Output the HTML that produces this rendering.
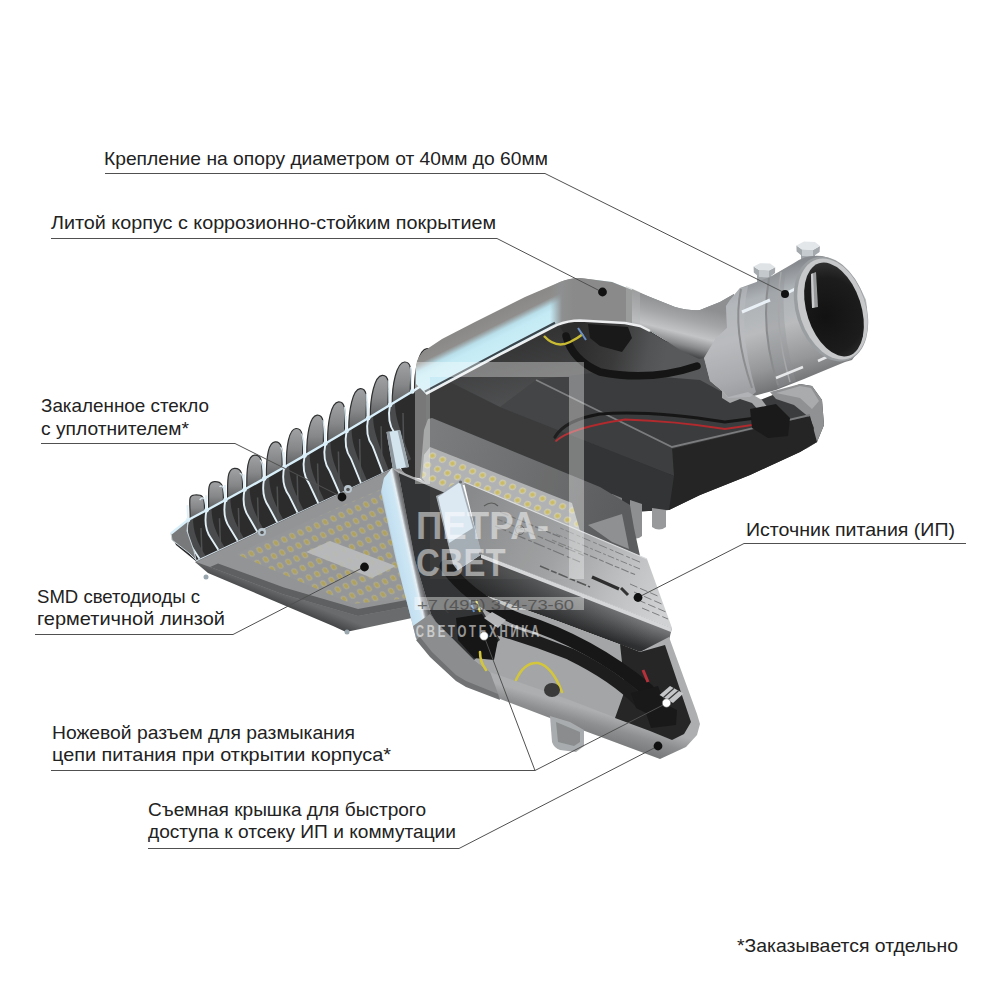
<!DOCTYPE html>
<html><head><meta charset="utf-8">
<style>
html,body{margin:0;padding:0;background:#fff;}
body{width:1000px;height:1000px;overflow:hidden;font-family:"Liberation Sans",sans-serif;}
svg{display:block;position:absolute;left:0;top:0;}
.t{font-family:"Liberation Sans",sans-serif;font-size:18.5px;fill:#222;}
.ln{fill:none;stroke:#505050;stroke-width:1;}
</style></head><body>
<svg width="1000" height="1000" viewBox="0 0 1000 1000">
<defs>
<linearGradient id="gCover" gradientUnits="userSpaceOnUse" x1="475" y1="322" x2="493" y2="358">
<stop offset="0" stop-color="#8a8886"/><stop offset="0.3" stop-color="#8f8e8c"/><stop offset="0.47" stop-color="#b9dfea"/><stop offset="0.6" stop-color="#c4ebf5"/><stop offset="0.9" stop-color="#c9edf7"/><stop offset="1" stop-color="#d5eef5"/>
</linearGradient>
<linearGradient id="gCoverR" gradientUnits="userSpaceOnUse" x1="550" y1="300" x2="574" y2="300">
<stop offset="0" stop-color="#8e9194" stop-opacity="0"/><stop offset="0.5" stop-color="#8e8f90" stop-opacity="1"/><stop offset="1" stop-color="#8a8a8a"/>
</linearGradient>
<linearGradient id="gArm" gradientUnits="userSpaceOnUse" x1="690" y1="300" x2="680" y2="355">
<stop offset="0" stop-color="#8a8b8c"/><stop offset="0.3" stop-color="#b5b8ba"/><stop offset="0.55" stop-color="#9fa2a4"/><stop offset="1" stop-color="#5e5f60"/>
</linearGradient>
<linearGradient id="gCyl" gradientUnits="userSpaceOnUse" x1="755" y1="275" x2="790" y2="395">
<stop offset="0" stop-color="#878a8e"/><stop offset="0.18" stop-color="#adb2b6"/><stop offset="0.45" stop-color="#b9bbbd"/><stop offset="0.75" stop-color="#949698"/><stop offset="1" stop-color="#646567"/>
</linearGradient>
<radialGradient id="gHole" gradientUnits="userSpaceOnUse" cx="838" cy="320" r="55">
<stop offset="0" stop-color="#121212"/><stop offset="0.7" stop-color="#1c1c1c"/><stop offset="1" stop-color="#333"/>
</radialGradient>
<linearGradient id="gBody" gradientUnits="userSpaceOnUse" x1="560" y1="330" x2="600" y2="500">
<stop offset="0" stop-color="#343435"/><stop offset="0.35" stop-color="#474849"/><stop offset="0.7" stop-color="#3e3e3f"/><stop offset="1" stop-color="#2f2f30"/>
</linearGradient>
<linearGradient id="gLidRim" gradientUnits="userSpaceOnUse" x1="520" y1="690" x2="510" y2="725">
<stop offset="0" stop-color="#acaeaf"/><stop offset="0.35" stop-color="#8d8f90"/><stop offset="1" stop-color="#696b6c"/>
</linearGradient>
<linearGradient id="gLidL" gradientUnits="userSpaceOnUse" x1="394.5" y1="562" x2="416.5" y2="557.2">
<stop offset="0" stop-color="#a3b6c3"/><stop offset="0.15" stop-color="#c2dff0"/><stop offset="0.6" stop-color="#cde6f4"/><stop offset="0.74" stop-color="#e6eff4"/><stop offset="0.84" stop-color="#8f9194"/><stop offset="1" stop-color="#5d5f61"/>
</linearGradient>
<linearGradient id="gPsuSide" gradientUnits="userSpaceOnUse" x1="580" y1="592" x2="570" y2="628">
<stop offset="0" stop-color="#989a9b"/><stop offset="0.45" stop-color="#6c6e6f"/><stop offset="1" stop-color="#2f3031"/>
</linearGradient>
<linearGradient id="gPsuTop" gradientUnits="userSpaceOnUse" x1="470" y1="500" x2="670" y2="600">
<stop offset="0" stop-color="#858687"/><stop offset="0.45" stop-color="#9d9fa0"/><stop offset="0.75" stop-color="#bcbebf"/><stop offset="1" stop-color="#d0d2d3"/>
</linearGradient>
<linearGradient id="gFin" x1="0" y1="0" x2="0" y2="1">
<stop offset="0" stop-color="#a1a2a3"/><stop offset="0.55" stop-color="#868788"/><stop offset="1" stop-color="#5e5f60"/>
</linearGradient>
<pattern id="pLed" width="10" height="10" patternUnits="userSpaceOnUse" patternTransform="matrix(0.82,-0.35,0.62,0.95,236,554)">
<rect width="10" height="10" fill="#959697"/>
<circle cx="5" cy="5" r="3.2" fill="#aeab94"/>
<circle cx="5" cy="5" r="2.2" fill="#b0a25c"/>
</pattern>
<pattern id="pLed2" width="10" height="10" patternUnits="userSpaceOnUse" patternTransform="matrix(1.0,0.39,-0.5,0.95,430,449)">
<rect width="10" height="10" fill="#aeafb0"/>
<circle cx="5" cy="5" r="3.1" fill="#cfccb0"/>
<circle cx="5" cy="5" r="2.1" fill="#c9ba5e"/>
</pattern>
<linearGradient id="gLedSide" gradientUnits="userSpaceOnUse" x1="300" y1="600" x2="294" y2="615">
<stop offset="0" stop-color="#6a6b6c"/><stop offset="1" stop-color="#38393a"/>
</linearGradient>
<linearGradient id="gFrame2" gradientUnits="userSpaceOnUse" x1="430" y1="440" x2="620" y2="510">
<stop offset="0" stop-color="#767778"/><stop offset="0.6" stop-color="#666768"/><stop offset="1" stop-color="#5c5d5e"/>
</linearGradient>
<linearGradient id="gUnder" gradientUnits="userSpaceOnUse" x1="575" y1="340" x2="665" y2="360">
<stop offset="0" stop-color="#2c2c2d"/><stop offset="0.45" stop-color="#3a3a3b"/><stop offset="0.8" stop-color="#525354"/><stop offset="1" stop-color="#58595a"/>
</linearGradient>
<linearGradient id="gArm2" gradientUnits="userSpaceOnUse" x1="672" y1="300" x2="660" y2="348">
<stop offset="0" stop-color="#8e8f90"/><stop offset="0.3" stop-color="#a3a5a6"/><stop offset="0.6" stop-color="#c2c4c5"/><stop offset="0.82" stop-color="#8a8b8c"/><stop offset="1" stop-color="#48494a"/>
</linearGradient>
<linearGradient id="gPsuSideX" gradientUnits="userSpaceOnUse" x1="470" y1="580" x2="650" y2="640">
<stop offset="0" stop-color="#1e1e1f" stop-opacity="0.75"/><stop offset="0.55" stop-color="#1e1e1f" stop-opacity="0.4"/><stop offset="1" stop-color="#1e1e1f" stop-opacity="0"/>
</linearGradient>

</defs>
<rect width="1000" height="1000" fill="#fff"/>
<!--PRODUCT-->
<g id="product">
<path d="M171,533 L188.0,520.0 L206.5,510.2 L225.4,500.0 L244.6,489.5 L264.2,478.6 L284.2,467.2 L304.6,455.6 L325.4,443.5 L346.6,431.0 L368.1,418.2 L390.0,405.0 L412.3,391.4 L435.0,377.4 L430,384 L432,480 L404,476 L400,465.6 L196,561.3 L176,545 Z" fill="#2c2c2d"/>
<path d="M190.2,518.5 C190.0,500.0 187.8,495.5 194.5,495.0 C201.9,494.5 204.5,495.2 204.5,508.2 L204.5,511.7 Z" fill="url(#gFin)" stroke="#2f3031" stroke-width="1.2"/>
<path d="M208.7,508.7 C208.5,490.2 207.4,482.2 214.2,481.7 C221.8,481.2 223.4,485.0 223.4,498.0 L223.4,501.5 Z" fill="url(#gFin)" stroke="#2f3031" stroke-width="1.2"/>
<path d="M227.6,498.5 C227.4,480.0 227.3,468.9 234.3,468.4 C242.0,467.9 242.6,474.5 242.6,487.5 L242.6,491.0 Z" fill="url(#gFin)" stroke="#2f3031" stroke-width="1.2"/>
<path d="M246.8,488.0 C246.6,469.5 247.5,455.6 254.6,455.1 C262.4,454.6 262.2,463.6 262.2,476.6 L262.2,480.1 Z" fill="url(#gFin)" stroke="#2f3031" stroke-width="1.2"/>
<path d="M266.4,477.1 C266.2,458.6 267.9,442.3 275.1,441.8 C283.1,441.3 282.2,452.2 282.2,465.2 L282.2,468.8 Z" fill="url(#gFin)" stroke="#2f3031" stroke-width="1.2"/>
<path d="M286.4,465.8 C286.2,447.2 288.7,429.0 296.0,428.5 C304.2,428.0 302.6,440.6 302.6,453.6 L302.6,457.1 Z" fill="url(#gFin)" stroke="#2f3031" stroke-width="1.2"/>
<path d="M306.8,454.1 C306.6,435.6 309.7,415.7 317.1,415.2 C325.4,414.7 323.4,428.5 323.4,441.5 L323.4,445.0 Z" fill="url(#gFin)" stroke="#2f3031" stroke-width="1.2"/>
<path d="M327.6,442.0 C327.4,423.5 330.9,402.4 338.6,401.9 C347.0,401.4 344.6,416.0 344.6,429.0 L344.6,432.5 Z" fill="url(#gFin)" stroke="#2f3031" stroke-width="1.2"/>
<path d="M348.8,429.5 C348.6,411.0 352.5,389.1 360.3,388.6 C368.9,388.1 366.1,403.2 366.1,416.2 L366.1,419.7 Z" fill="url(#gFin)" stroke="#2f3031" stroke-width="1.2"/>
<path d="M370.3,416.7 C370.1,398.2 374.4,375.8 382.2,375.3 C391.0,374.8 388.0,390.0 388.0,403.0 L388.0,406.5 Z" fill="url(#gFin)" stroke="#2f3031" stroke-width="1.2"/>
<path d="M392.2,403.5 C392.0,385.0 396.5,362.5 404.5,362.0 C413.4,361.5 410.3,376.4 410.3,389.4 L410.3,392.9 Z" fill="url(#gFin)" stroke="#2f3031" stroke-width="1.2"/>
<path d="M414.5,389.9 C414.3,371.4 418.9,349.2 427.0,348.7 C436.1,348.2 433.0,362.4 433.0,375.4 L433.0,378.9 Z" fill="url(#gFin)" stroke="#2f3031" stroke-width="1.2"/>
<path d="M199.7,500.0 Q205.3,493.2 205.9,509.2" fill="none" stroke="#dcebf3" stroke-width="1.4" opacity="0.9"/>
<path d="M219.5,486.7 Q224.2,483.0 224.8,499.0" fill="none" stroke="#dcebf3" stroke-width="1.4" opacity="0.9"/>
<path d="M239.7,473.4 Q243.4,472.5 244.0,488.5" fill="none" stroke="#dcebf3" stroke-width="1.4" opacity="0.9"/>
<path d="M260.1,460.1 Q263.0,461.6 263.6,477.6" fill="none" stroke="#dcebf3" stroke-width="1.4" opacity="0.9"/>
<path d="M280.7,446.8 Q283.1,450.2 283.6,466.2" fill="none" stroke="#dcebf3" stroke-width="1.4" opacity="0.9"/>
<path d="M301.7,433.5 Q303.4,438.6 304.0,454.6" fill="none" stroke="#dcebf3" stroke-width="1.4" opacity="0.9"/>
<path d="M323.0,420.2 Q324.2,426.5 324.8,442.5" fill="none" stroke="#dcebf3" stroke-width="1.4" opacity="0.9"/>
<path d="M344.5,406.9 Q345.4,414.0 346.0,430.0" fill="none" stroke="#dcebf3" stroke-width="1.4" opacity="0.9"/>
<path d="M366.3,393.6 Q366.9,401.2 367.5,417.2" fill="none" stroke="#dcebf3" stroke-width="1.4" opacity="0.9"/>
<path d="M388.4,380.3 Q388.8,388.0 389.4,404.0" fill="none" stroke="#dcebf3" stroke-width="1.4" opacity="0.9"/>
<path d="M410.7,367.0 Q411.1,374.4 411.7,390.4" fill="none" stroke="#dcebf3" stroke-width="1.4" opacity="0.9"/>
<path d="M433.4,353.7 Q433.8,360.4 434.4,376.4" fill="none" stroke="#dcebf3" stroke-width="1.4" opacity="0.9"/>
<path d="M188.0,520.0 C186.0,530.0 186.0,539.0 192.5,548.0 L199.5,558.7 L205.5,555.7 C197.0,542.0 193.0,532.0 193.0,517.0 Z" fill="#4a4b4c"/>
<path d="M201.0,528.0 L202.0,556.5" stroke="#4f5051" stroke-width="1.5"/>
<path d="M187.5,505.0 L188.0,520.0 C186.0,530.0 186.0,539.0 192.5,548.0 L199.5,558.7" fill="none" stroke="#e1eff6" stroke-width="1.9" stroke-linejoin="round"/>
<path d="M206.5,510.2 C204.5,520.2 204.5,529.2 211.0,538.2 L218.3,549.8 L224.3,546.8 C215.5,532.2 211.5,522.2 211.5,507.2 Z" fill="#4a4b4c"/>
<path d="M219.5,518.2 L220.5,547.8" stroke="#4f5051" stroke-width="1.5"/>
<path d="M206.0,495.2 L206.5,510.2 C204.5,520.2 204.5,529.2 211.0,538.2 L218.3,549.8" fill="none" stroke="#e1eff6" stroke-width="1.9" stroke-linejoin="round"/>
<path d="M225.4,500.0 C223.4,510.0 223.4,519.0 229.9,528.0 L237.6,540.8 L243.6,537.8 C234.4,522.0 230.4,512.0 230.4,497.0 Z" fill="#4a4b4c"/>
<path d="M238.4,508.0 L239.4,539.0" stroke="#4f5051" stroke-width="1.5"/>
<path d="M224.9,485.0 L225.4,500.0 C223.4,510.0 223.4,519.0 229.9,528.0 L237.6,540.8" fill="none" stroke="#e1eff6" stroke-width="1.9" stroke-linejoin="round"/>
<path d="M244.6,489.5 C242.6,499.5 242.6,508.5 249.1,517.5 L257.2,531.6 L263.2,528.6 C253.6,511.5 249.6,501.5 249.6,486.5 Z" fill="#4a4b4c"/>
<path d="M257.6,497.5 L258.6,529.9" stroke="#4f5051" stroke-width="1.5"/>
<path d="M244.1,474.5 L244.6,489.5 C242.6,499.5 242.6,508.5 249.1,517.5 L257.2,531.6" fill="none" stroke="#e1eff6" stroke-width="1.9" stroke-linejoin="round"/>
<path d="M264.2,478.6 C262.2,488.6 262.2,497.6 268.7,506.6 L277.1,522.3 L283.1,519.3 C273.2,500.6 269.2,490.6 269.2,475.6 Z" fill="#4a4b4c"/>
<path d="M277.2,486.6 L278.2,520.7" stroke="#4f5051" stroke-width="1.5"/>
<path d="M263.7,463.6 L264.2,478.6 C262.2,488.6 262.2,497.6 268.7,506.6 L277.1,522.3" fill="none" stroke="#e1eff6" stroke-width="1.9" stroke-linejoin="round"/>
<path d="M284.2,467.2 C282.2,477.2 282.2,486.2 288.8,495.2 L297.5,512.7 L303.5,509.7 C293.2,489.2 289.2,479.2 289.2,464.2 Z" fill="#4a4b4c"/>
<path d="M297.2,475.2 L298.2,511.4" stroke="#4f5051" stroke-width="1.5"/>
<path d="M283.8,452.2 L284.2,467.2 C282.2,477.2 282.2,486.2 288.8,495.2 L297.5,512.7" fill="none" stroke="#e1eff6" stroke-width="1.9" stroke-linejoin="round"/>
<path d="M304.6,455.6 C302.6,465.6 302.6,474.6 309.1,483.6 L318.2,503.0 L324.2,500.0 C313.6,477.6 309.6,467.6 309.6,452.6 Z" fill="#4a4b4c"/>
<path d="M317.6,463.6 L318.6,501.8" stroke="#4f5051" stroke-width="1.5"/>
<path d="M304.1,440.6 L304.6,455.6 C302.6,465.6 302.6,474.6 309.1,483.6 L318.2,503.0" fill="none" stroke="#e1eff6" stroke-width="1.9" stroke-linejoin="round"/>
<path d="M325.4,443.5 C323.4,453.5 323.4,462.5 329.9,471.5 L339.4,493.1 L345.4,490.1 C334.4,465.5 330.4,455.5 330.4,440.5 Z" fill="#4a4b4c"/>
<path d="M338.4,451.5 L339.4,492.1" stroke="#4f5051" stroke-width="1.5"/>
<path d="M324.9,428.5 L325.4,443.5 C323.4,453.5 323.4,462.5 329.9,471.5 L339.4,493.1" fill="none" stroke="#e1eff6" stroke-width="1.9" stroke-linejoin="round"/>
<path d="M346.6,431.0 C344.6,441.0 344.6,450.0 351.1,459.0 L360.9,483.0 L366.9,480.0 C355.6,453.0 351.6,443.0 351.6,428.0 Z" fill="#4a4b4c"/>
<path d="M359.6,439.0 L360.6,482.1" stroke="#4f5051" stroke-width="1.5"/>
<path d="M346.1,416.0 L346.6,431.0 C344.6,441.0 344.6,450.0 351.1,459.0 L360.9,483.0" fill="none" stroke="#e1eff6" stroke-width="1.9" stroke-linejoin="round"/>
<path d="M368.1,418.2 C366.1,428.2 366.1,437.2 372.6,446.2 L382.7,472.7 L388.7,469.7 C377.1,440.2 373.1,430.2 373.1,415.2 Z" fill="#4a4b4c"/>
<path d="M381.1,426.2 L382.1,472.0" stroke="#4f5051" stroke-width="1.5"/>
<path d="M367.6,403.2 L368.1,418.2 C366.1,428.2 366.1,437.2 372.6,446.2 L382.7,472.7" fill="none" stroke="#e1eff6" stroke-width="1.9" stroke-linejoin="round"/>
<path d="M390.0,405.0 C388.0,415.0 388.0,424.0 394.5,433.0 L405.0,462.3 L411.0,459.3 C399.0,427.0 395.0,417.0 395.0,402.0 Z" fill="#4a4b4c"/>
<path d="M403.0,413.0 L404.0,461.8" stroke="#4f5051" stroke-width="1.5"/>
<path d="M389.5,390.0 L390.0,405.0 C388.0,415.0 388.0,424.0 394.5,433.0 L405.0,462.3" fill="none" stroke="#e1eff6" stroke-width="1.9" stroke-linejoin="round"/>
<circle cx="188.0" cy="520.0" r="2.3" fill="#e4f4fc"/>
<circle cx="206.5" cy="510.2" r="2.3" fill="#e4f4fc"/>
<circle cx="225.4" cy="500.0" r="2.3" fill="#e4f4fc"/>
<circle cx="244.6" cy="489.5" r="2.3" fill="#e4f4fc"/>
<circle cx="264.2" cy="478.6" r="2.3" fill="#e4f4fc"/>
<circle cx="284.2" cy="467.2" r="2.3" fill="#e4f4fc"/>
<circle cx="304.6" cy="455.6" r="2.3" fill="#e4f4fc"/>
<circle cx="325.4" cy="443.5" r="2.3" fill="#e4f4fc"/>
<circle cx="346.6" cy="431.0" r="2.3" fill="#e4f4fc"/>
<circle cx="368.1" cy="418.2" r="2.3" fill="#e4f4fc"/>
<circle cx="390.0" cy="405.0" r="2.3" fill="#e4f4fc"/>
<circle cx="412.3" cy="391.4" r="2.3" fill="#e4f4fc"/>
<path d="M171,533 L188,520 L187,531 L194,551 L196,560 L189,553 L172,540 Z" fill="#78797b" stroke="#c4d0d6" stroke-width="1"/>
<path d="M171.0,533.5 L188.0,520.0 L206.5,510.2 L225.4,500.0 L244.6,489.5 L264.2,478.6 L284.2,467.2 L304.6,455.6 L325.4,443.5 L346.6,431.0 L368.1,418.2 L390.0,405.0 L412.3,391.4 L429.0,380.9" stroke="#d9f0fb" stroke-width="2.4" fill="none" stroke-linejoin="round"/>
<path d="M196,561.3 L400,465.6" stroke="#cfdde6" stroke-width="1.8" fill="none"/>
<!-- module body side -->
<path d="M195,562 L208,573 L333,626 L346,632 L365,628 L412,618 L412,500 L398,466 Z" fill="url(#gLedSide)"/>
<!-- top plate -->
<path d="M196,562 L398,466.5 L412,480 L412,606 L358,616 L282,594 L210,567 Z" fill="#929496"/>
<path d="M210,567 L282,594 L358,616 L412,606 L412,599 L358,609 L284,587.5 L218,563.5 Z" fill="#5f6061"/>
<!-- led area -->
<path d="M236,554 L337,508 L398,482 L410,490 L410,598 L352,604 Z" fill="url(#pLed)"/>
<!-- clear centre -->
<path d="M306,552 L330,541 L396,566 L372,578 Z" fill="#b9bbbc" opacity="0.9"/>
<!-- bosses -->
<circle cx="262" cy="532" r="4" fill="#b9c6ce"/><circle cx="262" cy="532.5" r="1.8" fill="#555"/>
<circle cx="348" cy="489" r="4" fill="#b9c6ce"/><circle cx="348" cy="489.5" r="1.8" fill="#555"/>
<circle cx="206" cy="577" r="2.5" fill="#9aa6ad"/><circle cx="347" cy="632" r="2.5" fill="#9aa6ad"/>
<!-- dark interior / lower tray -->
<path d="M426,394 L500,354.5 L557,325 Q568,320.5 580,320.5 L625,323 L640,326 L650,331 L665,340 L682,347 L704,356 L710,381 L722,391 L760,400 L800,384 L812,386 L822,400 L824,425 L817,442 L800,452 L750,475 L700,495 L669,510 L628,512 L500,460 L426,425 Z" fill="url(#gBody)"/>
<!-- under-cover shadow area (darker upper interior) -->
<path d="M560,327 Q570,322 580,322 L625,324 L640,327 L650,332 L665,341 L682,348 L704,357 L710,381 L722,391 L700,392 L650,392 L600,376 L575,352 Z" fill="url(#gUnder)"/>
<!-- tray top plate -->
<path d="M536,380 L600,372 L700,380 L722,392 L760,401 L800,386 L810,392 L812,415 L672,447 Z" fill="#3b3c3d"/>
<!-- tray right wall (rim) -->
<path d="M770,392 L800,384 L812,386 L822,400 L824,425 L817,442 L806,449 L810,440 L814,428 L810,418 L794,405 L776,399 Z" fill="#8f9193"/><path d="M776,393 L800,386 L811,388 L819,401 L812,409 L800,398 Z" fill="#a9abad"/>
<!-- dark side face -->
<path d="M672,449 L810,416 L817,442 L800,452 L750,475 L700,495 L669,510 L667,480 Z" fill="#252526"/>
<!-- sloped faces left of corner -->
<path d="M500,407 L536,380 L672,447 L674,476 Z" fill="#3d3e3f"/>
<path d="M430,372 L500,407 L674,476 L669,510 L628,512 L500,460 L426,425 L426,394 Z" fill="#333435"/>
<!-- ridge highlight -->
<path d="M536,380 L672,447 L810,415" fill="none" stroke="#7a7c7d" stroke-width="1.8"/>
<!-- posts -->
<path d="M630,500 L630,536 Q636,541 642,536 L642,504 Z" fill="#8d8f91"/>
<path d="M652,508 L652,527 Q659,532 666,527 L666,510 Z" fill="#97999b"/>
<path d="M612,494 L612,524 Q617,528 622,524 L622,498 Z" fill="#7d7f81"/>
<!-- upper cover top face -->
<path d="M416,384 L416,366 Q417,357 424,351 L442,339 L475,322 L525,297 L560,282 Q570,278 580,278 L612,282 L632,290 L650,297 L675,307 Q690,311 700,310 L720,302 L734,294 L734,360 L704,356 L682,347 L665,340 L650,331 L640,326 L625,323 L580,320.5 Q568,320.5 557,325 L500,354.5 L426,394 Z" fill="url(#gCover)"/>
<path d="M540,291 L560,282 Q570,278 580,278 L612,282 L632,290 L650,297 L675,307 Q690,311 700,310 L720,302 L734,294 L734,360 L704,356 L682,347 L665,340 L650,331 L640,326 L625,323 L580,320.5 Q568,320.5 557,325 L540,334 Z" fill="url(#gCoverR)"/>
<path d="M632,289 L650,297 L675,307 Q690,311 700,310 L720,302 L734,294 L734,362 L704,358 L699,359 L680,350 L653,332 L640,326 L632,323.5 Z" fill="url(#gArm2)"/><path d="M626,286 L640,292 L640,326 L626,323 Z" fill="#b4b6b7" opacity="0.4"/>
<!-- dark line above rim -->
<path d="M424.8,391.6 L498.8,352.1 L555,322.8" fill="none" stroke="#2a3238" stroke-width="2.2" opacity="0.9"/>
<!-- bright rim line -->
<path d="M426,394 L500,354.5 L557,325 Q568,320.5 580,320.5 L625,323 L640,326 L650,331" fill="none" stroke="#eceeef" stroke-width="2.4"/>

<!-- bolts -->
<path d="M757,284 L757,272 L771,272 L771,282 Z" fill="#9fa4a9"/>
<path d="M753.6,266.4 L759,270 L769,270.4 L775.2,267.2 L775,273 L769,277.5 L759,277 L753.8,272.5 Z" fill="#a4a9ae"/>
<path d="M759,270 L769,270.4 L769,277.5 L759,277 Z" fill="#c3c8cc"/>
<path d="M753.6,266.4 L760,263.2 L770,263.6 L775.2,267.2 L769,270.4 L759,270 Z" fill="#dfe3e6"/>
<path d="M801,262 L801,250 L815,250 L815,259 Z" fill="#9fa4a9"/>
<path d="M796.4,245.6 L802,249.6 L813,250 L820,246 L819.6,252 L813,256.5 L802,256 L796.6,251.5 Z" fill="#a4a9ae"/>
<path d="M802,249.6 L813,250 L813,256.5 L802,256 Z" fill="#c6cbcf"/>
<path d="M796.4,245.6 L804,241.6 L815,242 L820,246 L813,250 L802,249.6 Z" fill="#e3e7ea"/>
<!-- cylinder body -->
<path d="M730,300 L740,288 L770,277 L794,263 Q806,254 822,256 Q850,262 866,300 Q872,335 852,360 L845,362 L828,369 L804,379 L776,390 L750,397 L728,398 L722,391 L710,381 L704,358 L716,338 L727,328 L726,306 Z" fill="url(#gCyl)"/>
<!-- bracket under -->
<path d="M722,390 L728,397 L748,392 L762,400 L768,408 L760,412 L752,403 L740,399 L730,403 L722,398 Z" fill="#a4a6a8"/>
<!-- grooves -->
<path d="M730,300 L740,288 L748,286 Q738,330 756,392 L750,397 L728,398 L722,391 L710,381 L704,358 L716,338 L727,328 L726,306 Z" fill="#b9bcbf" opacity="0.55"/>
<path d="M770,277 L786,268 Q778,322 796,381 L778,388 Q760,330 770,277 Z" fill="#8f9295" opacity="0.35"/>
<path d="M741,289 Q732,330 752,388" fill="none" stroke="#8b8d8f" stroke-width="2"/>
<path d="M769,278 Q760,330 778,385" fill="none" stroke="#898b8d" stroke-width="2"/>
<path d="M781,272 Q773,325 790,382" fill="none" stroke="#a5a7a9" stroke-width="1.5"/>
<path d="M742,312 L770,300 M785,294 L797,288" stroke="#e9f1f6" stroke-width="3" fill="none"/>
<path d="M776,378 L803,367 M818,361 L831,355" stroke="#e6e8ea" stroke-width="2.5" fill="none"/>
<!-- rim -->
<ellipse cx="831" cy="309" rx="54" ry="35" transform="rotate(72 831 309)" fill="#9b9ea1"/>
<ellipse cx="832.5" cy="309" rx="52" ry="33" transform="rotate(72 832.5 309)" fill="#c6c8ca"/>
<ellipse cx="834" cy="309.5" rx="48.5" ry="27.2" transform="rotate(72 834 309.5)" fill="url(#gHole)"/>
<path d="M811,274 L816,272 L818,307 L812,308 Z" fill="#97999b"/>
<path d="M811,274 L813,273.5 L814.5,307.5 L812,308 Z" fill="#c9cbcd"/>
<!-- frame over LED2 -->
<path d="M428,419 L432,418 L600,487 L630,505 L634,528 L640,556 L612,547 L598,548 L600,540 L466,484 L445,490 L436,496 L420,478 L424,430 Z" fill="url(#gFrame2)"/>
<path d="M588,525 L622,514 L629,549 L612,542 Z" fill="#8e9091"/>
<!-- led strip -->
<path d="M430,447 L572,503 L580,531 L466,484 L445,490 L436,496 L422,478 L424,455 Z" fill="url(#pLed2)"/>
<!-- hinge bar -->
<path d="M386.5,432 L400,430 L409,467 L393,469.5 Z" fill="#d3e4ef"/>
<path d="M386.5,432 L389.5,431.5 L396.5,469 L393,469.5 Z" fill="#8e979d"/><path d="M397.5,430.3 L400,430 L409,467 L406,467.4 Z" fill="#9aa5ac"/>
<!-- PSU side face -->
<path d="M455,572 L482,554 L672,628 L669,640 L640,652 L560,622 L470,590 Z" fill="url(#gPsuSide)"/>
<path d="M455,572 L482,554 L672,628 L669,640 L640,652 L560,622 L470,590 Z" fill="url(#gPsuSideX)"/>
<!-- label face -->
<path d="M464,482 L647,559 L672,628 L481,554 Z" fill="url(#gPsuTop)"/>
<!-- bevel along lower edge -->
<path d="M481,554 L672,628 L671,632 L481,558 Z" fill="#d4d6d8"/>
<path d="M464,482 L647,559" stroke="#d9dbdd" stroke-width="1.2" fill="none"/>
<!-- label printing -->
<g fill="none" stroke-linecap="butt">
<path d="M592,577 L619,589" stroke="#2e2e2e" stroke-width="3.4"/>
<path d="M621,588 L628,595" stroke="#333" stroke-width="3"/>
<path d="M500,512 L560,537" stroke="#6e6f70" stroke-width="1.2" stroke-dasharray="9 3 5 2"/>
<path d="M497,519 L585,556" stroke="#747576" stroke-width="1.1" stroke-dasharray="6 2 11 3"/>
<path d="M495,526 L580,562" stroke="#6e6f70" stroke-width="1.1" stroke-dasharray="12 3 4 2"/>
<path d="M552,540 L636,575" stroke="#7a7b7c" stroke-width="1.1" stroke-dasharray="5 2 8 2"/>
<path d="M556,534 L640,569" stroke="#808182" stroke-width="1" stroke-dasharray="7 2 3 2"/>
<path d="M560,528 L642,563" stroke="#808182" stroke-width="1" stroke-dasharray="4 2 9 3"/>
<path d="M540,566 L590,587" stroke="#555" stroke-width="1.6" stroke-dasharray="10 2 6 2"/>
<path d="M630,584 L660,597 M634,592 L664,605 M638,600 L666,612 M642,608 L668,619" stroke="#7d7e7f" stroke-width="1" stroke-dasharray="8 3"/>
<path d="M484,506 Q492,500 498,506" stroke="#555" stroke-width="1.2"/>
<circle cx="520" cy="530" r="4.5" stroke="#666" stroke-width="1"/>
</g>
<!-- end plate -->
<path d="M436,496 L461,479 L482,554 L455,572 Z" fill="#a3abb2"/>
<path d="M438,497 L460,482 L473,528 L449,543 Z" fill="#dbe8f2"/>
<circle cx="460.5" cy="482" r="1.6" fill="#666"/><circle cx="480.5" cy="553" r="1.6" fill="#666"/>
<!-- lid outer -->
<path d="M392,468 L384,478 L381,492 L396,560 L413,626 L416,638 L430,656 L456,680 L466,686 L550,718 L660,759 L686,747 L697,735 L700,724 L697,714 L669,637 L640,652 L560,622 L470,590 L455,572 L436,496 L445,490 Z" fill="url(#gLidRim)"/>
<!-- left outer face highlight -->
<path d="M392,468 L384,478 L381,492 L396,560 L413,626 L416,638 L422,646 L436,622 L431,614 L415,560 L398.5,473 Z" fill="url(#gLidL)"/>
<path d="M413,626 L416,638 L430,656 L456,680 L466,686 L500,699 L490,672 L474,660 L436,622 L430,614 Z" fill="#8b8d8e"/>
<path d="M416,640 L430,657 L456,681 L466,687 L500,700 L498,694 L466,681 L456,675 L432,652 L420,637 Z" fill="#707273"/>
<!-- inner cavity -->
<path d="M398.5,473 L415,560 L431,614 L436,622 L474,660 L490,672 L570,700 L650,731 L672,740 L684,734 L691,722 L665,645 L640,652 L560,622 L470,590 L455,572 L436,496 L444,492.5 Z" fill="#a3a5a6"/>
<!-- dark parts of cavity -->
<path d="M398.5,473 L415,560 L431,614 L436,622 L474,660 L500,640 L470,590 L455,572 L436,496 L444,492.5 Z" fill="#333435"/>
<path d="M620,644 L640,652 L665,645 L691,722 L684,734 L672,740 L650,731 L615,718 L625,690 Z" fill="#262627"/>
<!-- bracket -->
<path d="M550,716 L552,742 Q554,748 560,750 L576,752 L584,746 L584,730 L570,722 Z" fill="#a9acae"/>
<path d="M556,722 L558,742 L574,746 L580,742 L580,732 Z" fill="#8a8c8e"/>
<!-- upper connector + cable -->
<path d="M566,336 Q572,360 600,372 Q650,382 697,366" fill="none" stroke="#151515" stroke-width="7.5" stroke-linecap="round"/>
<path d="M588,324 L628,327 L632,338 L622,352 L600,346 L590,338 Z" fill="#19191a"/>
<path d="M544,336 Q556,349 570,342 Q578,338 583,334" fill="none" stroke="#c9ba33" stroke-width="2.4"/>
<path d="M578,328 L586,340" stroke="#6b8fc4" stroke-width="2" fill="none"/>
<!-- red/black pair -->
<path d="M555,437 Q565,420 600,414 Q650,410 725,422 L756,418" fill="none" stroke="#161616" stroke-width="3.2" stroke-linecap="round"/>
<path d="M556,441 Q570,428 625,419.5 Q675,421 725,429 L752,425" fill="none" stroke="#b02a2e" stroke-width="1.8" stroke-linecap="round"/>
<path d="M750,409 L776,404 L790,418 L788,436 L768,438 L752,428 Z" fill="#1a1a1b"/>
<!-- lid cables -->
<path d="M446,566 Q470,600 520,620 Q590,642 648,690" fill="none" stroke="#171717" stroke-width="13" stroke-linecap="round"/>
<path d="M470,622 Q520,634 570,654 Q615,676 640,702" fill="none" stroke="#1d1d1e" stroke-width="12" stroke-linecap="round"/>
<path d="M456,618 L482,614 L498,640 L494,660 L474,658 L458,640 Z" fill="#161617"/>
<path d="M631,693 L658,686 L665,704 L677,710 L676,725 L651,728 L646,713 L636,708 Z" fill="#19191a"/>
<path d="M659.5,695 L670,686 L683.5,693.5 L673,703 Z" fill="#c4c6c8"/><path d="M663.5,697.5 L674,688.3 M668,699.8 L678.5,690.7" stroke="#3a3a3a" stroke-width="1.2" fill="none"/>
<path d="M484,618 L492,612 L506,620 L498,628 Z" fill="#b5b7b9"/>
<path d="M516,680 Q524,662 538,663 Q552,666 562,692" fill="none" stroke="#d4c63a" stroke-width="2.6" stroke-linecap="round"/>
<path d="M480,652 Q480,662 486,670" fill="none" stroke="#d4c63a" stroke-width="2.6" stroke-linecap="round"/>
<path d="M476,600 L480,612" stroke="#d4c63a" stroke-width="2" fill="none"/><path d="M470,600 L474,612" stroke="#5c8fd0" stroke-width="2" fill="none"/>
<path d="M643,670 Q645.5,676 648,682" stroke="#b8303a" stroke-width="3" fill="none"/>
<ellipse cx="552" cy="690" rx="8" ry="7" fill="#3a3a3a"/>

</g>
<!--WATERMARK-->
<g id="wm">
<g fill="#fff">
<path d="M415,362 H584 V579 H569 V377 H430 V484 H415 Z" opacity="0.36"/>
<rect x="430" y="377" width="139" height="202" opacity="0.04"/>
<rect x="414.5" y="597" width="169.5" height="13" opacity="0.4"/>
<text x="416" y="538.5" font-family="Liberation Sans, sans-serif" font-weight="bold" font-size="38.5" textLength="133" lengthAdjust="spacingAndGlyphs" opacity="0.5">ПЕТРА-</text>
<text x="416" y="576" font-family="Liberation Sans, sans-serif" font-weight="bold" font-size="39" textLength="89.5" lengthAdjust="spacingAndGlyphs" opacity="0.5">СВЕТ</text>
<text transform="scale(0.72,1)" x="577.5" y="636.8" font-family="Liberation Sans, sans-serif" font-weight="bold" font-size="15.8" textLength="171.5" lengthAdjust="spacing" opacity="0.55">СВЕТОТЕХНИКА</text>
</g>
<text x="417" y="609.8" font-family="Liberation Sans, sans-serif" font-size="15.4" textLength="157" lengthAdjust="spacingAndGlyphs" fill="#444" opacity="0.7">+7 (495) 374-73-60</text>

</g>
<!--LEADERS-->
<g id="leaders">
<polyline class="ln" points="105,173.5 545,173.5 785,293"/>
<polyline class="ln" points="51,238.5 497,238.5 602,292"/>
<polyline class="ln" points="41,443.5 235,443.5 342,497"/>
<polyline class="ln" points="35,634.5 233,634.5 364,567"/>
<polyline class="ln" points="51,770.5 535,770.5 484,636"/>
<polyline class="ln" points="535,770.5 667,703"/>
<polyline class="ln" points="148,848.5 459,848.5 658,746"/>
<polyline class="ln" points="966,543.5 744,543.5 638,597.5"/>
<circle cx="785" cy="294" r="4" fill="#111"/>
<circle cx="602.5" cy="292" r="4.4" fill="#111"/>
<circle cx="342" cy="497" r="4.4" fill="#111"/>
<circle cx="364.5" cy="567" r="4.4" fill="#111"/>
<circle cx="484" cy="636" r="4.2" fill="#fff" stroke="#666" stroke-width="0.5"/>
<circle cx="666.5" cy="703" r="4.2" fill="#fff" stroke="#666" stroke-width="0.5"/>
<circle cx="658" cy="746" r="4.4" fill="#111"/>
<circle cx="638" cy="597.5" r="4.4" fill="#111"/>
</g>
<!--TEXT-->
<g id="labels">
<text class="t" x="104" y="165" textLength="444" lengthAdjust="spacingAndGlyphs">Крепление на опору диаметром от 40мм до 60мм</text>
<text class="t" x="51" y="229" textLength="445" lengthAdjust="spacingAndGlyphs">Литой корпус с коррозионно-стойким покрытием</text>
<text class="t" x="41" y="412" textLength="168" lengthAdjust="spacingAndGlyphs">Закаленное стекло</text>
<text class="t" x="41" y="434.5" textLength="148" lengthAdjust="spacingAndGlyphs">с уплотнителем*</text>
<text class="t" x="37" y="603" textLength="163" lengthAdjust="spacingAndGlyphs">SMD светодиоды с</text>
<text class="t" x="37" y="625" textLength="188" lengthAdjust="spacingAndGlyphs">герметичной линзой</text>
<text class="t" x="52" y="739" textLength="303" lengthAdjust="spacingAndGlyphs">Ножевой разъем для размыкания</text>
<text class="t" x="52" y="761" textLength="339" lengthAdjust="spacingAndGlyphs">цепи питания при открытии корпуса*</text>
<text class="t" x="148" y="816" textLength="278" lengthAdjust="spacingAndGlyphs">Съемная крышка для быстрого</text>
<text class="t" x="148" y="838" textLength="308" lengthAdjust="spacingAndGlyphs">доступа к отсеку ИП и коммутации</text>
<text class="t" x="746" y="536" textLength="209" lengthAdjust="spacingAndGlyphs">Источник питания (ИП)</text>
<text class="t" x="737" y="952" textLength="221" lengthAdjust="spacingAndGlyphs">*Заказывается отдельно</text>
</g>
</svg>
</body></html>
